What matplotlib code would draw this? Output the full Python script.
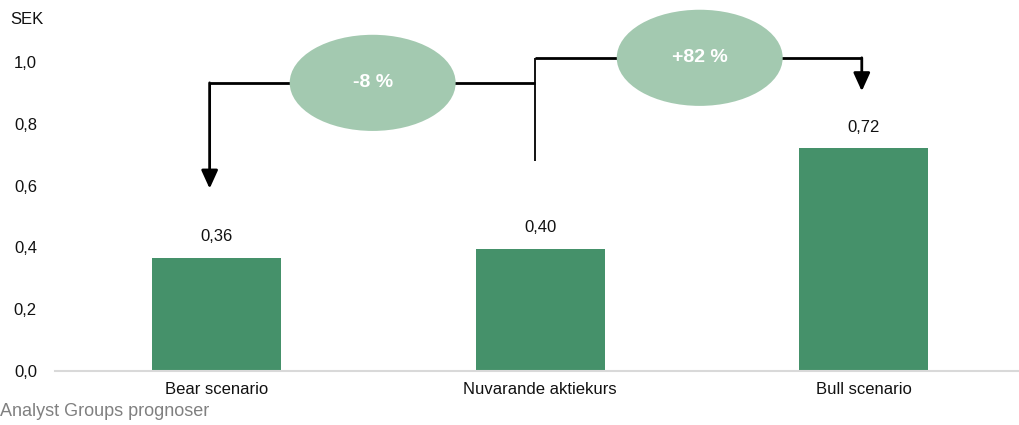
import matplotlib.pyplot as plt
from matplotlib.patches import Ellipse

plt.rcParams['font.family'] = ['Liberation Sans Narrow', 'Liberation Sans', 'DejaVu Sans']

categories = ['Bear scenario', 'Nuvarande aktiekurs', 'Bull scenario']
values = [0.365, 0.395, 0.72]
value_labels = ['0,36', '0,40', '0,72']
changes = ['-8 %', '+82 %']
yticks = [0.0, 0.2, 0.4, 0.6, 0.8, 1.0]

bar_color = '#45916a'
oval_color = '#a3c9b0'

fig = plt.figure(figsize=(10.19, 4.25), dpi=100)
ax = fig.add_axes([55 / 1019, 54 / 425, 964 / 1019, 371 / 425])

x = list(range(len(categories)))
ax.bar(x, values, width=0.4, color=bar_color, zorder=2)
ax.set_xlim(-0.5, 2.48)
ax.set_ylim(0, 1.2)

for xi, v, lab in zip(x, values, value_labels):
    ax.annotate(lab, (xi, v), xytext=(0, 10), textcoords='offset points',
                ha='center', va='bottom', fontsize=12, color='#111111')

ax.set_xticks(x)
ax.set_xticklabels(categories, fontsize=12, color='#111111')
ax.set_yticks(yticks)
ax.set_yticklabels([f'{t:.1f}'.replace('.', ',') for t in yticks], fontsize=12, color='#111111')
ax.tick_params(axis='both', length=0)
ax.tick_params(axis='y', pad=13)
ax.tick_params(axis='x', pad=8)
for s in ['top', 'right', 'left']:
    ax.spines[s].set_visible(False)
ax.spines['bottom'].set_color('#d9d9d9')
ax.spines['bottom'].set_linewidth(1.5)

# connectors: bear <- oval1 <- current -> oval2 -> bull
lw = 2
y_low, y_high = 0.932, 1.013
ov1 = (0.482, y_low)
ov2 = (1.493, y_high)
ow, oh = 0.513, 0.311
xl, xm, xr = x[0] - 0.022, x[1] - 0.017, x[2] - 0.006

line_kw = dict(color='black', zorder=3, solid_capstyle='butt', solid_joinstyle='miter')
ax.plot([xl, xm], [y_low, y_low], lw=lw, **line_kw)
ax.plot([xm, xm], [0.68, y_high], lw=1.3, **line_kw)
ax.plot([xm, xr], [y_high, y_high], lw=lw, **line_kw)

arrow_kw = dict(arrowstyle='-|>,head_width=0.5,head_length=1.1',
                lw=lw, color='black', shrinkA=0, shrinkB=0)
ax.annotate('', xy=(xl, 0.59), xytext=(xl, y_low), arrowprops=arrow_kw, zorder=3)
ax.annotate('', xy=(xr, 0.905), xytext=(xr, y_high), arrowprops=arrow_kw, zorder=3)

for (cx, cy), txt in zip([ov1, ov2], changes):
    ax.add_patch(Ellipse((cx, cy), ow, oh, facecolor=oval_color, edgecolor='none', zorder=4))
    ax.text(cx, cy, txt, ha='center', va='center', fontsize=14, fontweight='bold',
            color='white', zorder=5)

fig.text(10 / 1019, 1 - 20 / 425, 'SEK', fontsize=12, color='#111111', va='center')
fig.text(0, 1 - 411 / 425, 'Analyst Groups prognoser', fontsize=13, color='#808080', va='center')

fig.savefig('out.png', dpi=100)
